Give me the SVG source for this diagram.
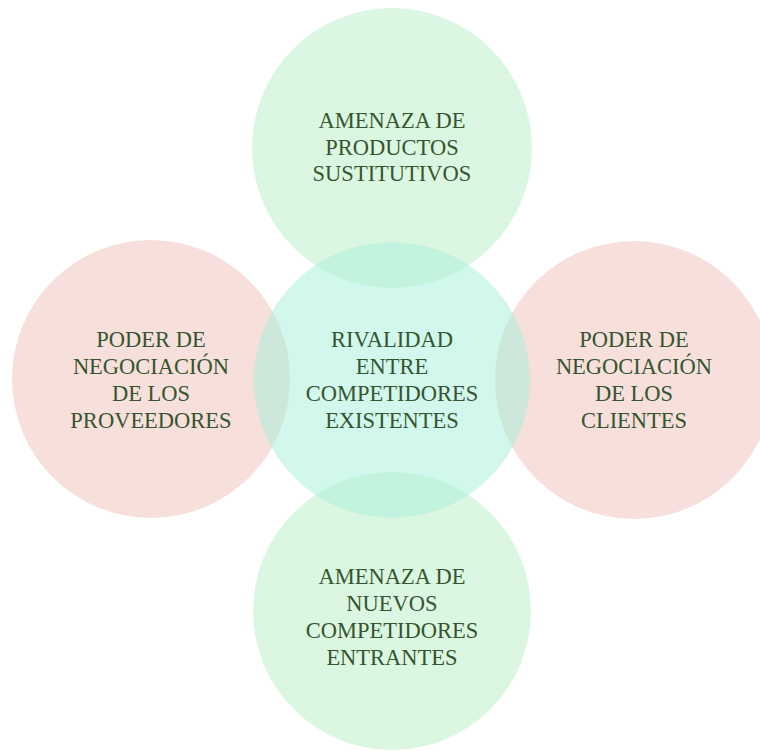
<svg xmlns="http://www.w3.org/2000/svg" width="760" height="751" viewBox="0 0 760 751">
<style>
.c{fill-opacity:0.5}
.g{fill:#b9efc3}
.p{fill:#efc0b7}
.y{fill:#a5efdc}
text{font-family:"Liberation Serif","Times New Roman",serif;font-size:22.5px;fill:#36552f;text-anchor:middle}
</style>
<rect width="760" height="751" fill="#ffffff"/>
<g id="connectors"></g>
<g id="top"><circle class="c g" cx="392" cy="148" r="140"/>
<text x="392" y="128">AMENAZA DE</text><text x="392" y="155">PRODUCTOS</text><text x="392" y="181">SUSTITUTIVOS</text></g>
<g id="left"><circle class="c p" cx="151" cy="379" r="139"/>
<text x="151" y="347">PODER DE</text><text x="151" y="374">NEGOCIACIÓN</text><text x="151" y="401">DE LOS</text><text x="151" y="428">PROVEEDORES</text></g>
<g id="right"><circle class="c p" cx="634" cy="380" r="139"/>
<text x="634" y="347">PODER DE</text><text x="634" y="374">NEGOCIACIÓN</text><text x="634" y="401">DE LOS</text><text x="634" y="428">CLIENTES</text></g>
<g id="bottom"><circle class="c g" cx="392" cy="611" r="139"/>
<text x="392" y="584">AMENAZA DE</text><text x="392" y="611">NUEVOS</text><text x="392" y="638">COMPETIDORES</text><text x="392" y="665">ENTRANTES</text></g>
<g id="center"><circle class="c y" cx="392" cy="380" r="138"/>
<text x="392" y="347">RIVALIDAD</text><text x="392" y="374">ENTRE</text><text x="392" y="401">COMPETIDORES</text><text x="392" y="428">EXISTENTES</text></g>
</svg>
